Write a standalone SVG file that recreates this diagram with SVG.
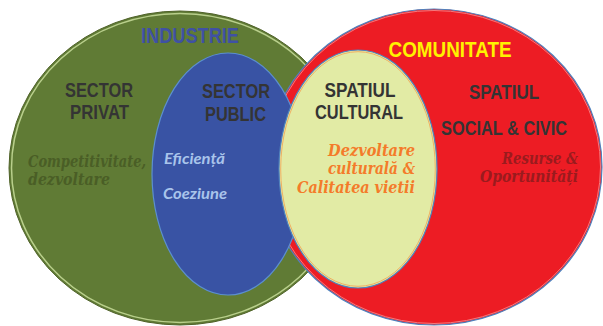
<svg xmlns="http://www.w3.org/2000/svg" width="603" height="326" viewBox="0 0 603 326">
  <style>
    .head { font-family: "Liberation Sans", Arial, sans-serif; font-weight: bold; font-size: 22px; }
    .lbl { font-family: "Liberation Sans", Arial, sans-serif; font-weight: bold; font-size: 20px; fill: #343434; text-anchor: middle; }
    .serif-it { font-family: "DejaVu Serif", "Liberation Serif", serif; font-weight: bold; font-style: italic; font-size: 16px; }
    .sans-it { font-family: Lato, "Liberation Sans", sans-serif; font-weight: bold; font-style: italic; font-size: 16px; fill: #A9C4EB; }
  </style>
  <rect width="603" height="326" fill="#FFFFFF"/>

  <!-- Industry sphere -->
  <g id="industrie">
    <ellipse cx="180" cy="168" rx="171" ry="157" fill="#607B35" stroke="#4F6228" stroke-width="1"/>
    <ellipse cx="180" cy="168" rx="168.5" ry="154.5" fill="none" stroke="#B9CF8C" stroke-width="1.5"/>
    <text class="head" x="190" y="43" text-anchor="middle" fill="#3F51A4" textLength="98" lengthAdjust="spacingAndGlyphs">INDUSTRIE</text>
    <text class="lbl" x="99" y="97" textLength="68" lengthAdjust="spacingAndGlyphs">SECTOR</text>
    <text class="lbl" x="99.5" y="119" textLength="59" lengthAdjust="spacingAndGlyphs">PRIVAT</text>
    <!-- horizontally condensed so the line stays clear of the blue ellipse -->
    <text class="serif-it" transform="translate(28 167) scale(0.72 1)" fill="#4A5E26" textLength="164" lengthAdjust="spacingAndGlyphs">Competitivitate,</text>
    <text class="serif-it" x="28" y="185" fill="#4A5E26" textLength="82" lengthAdjust="spacingAndGlyphs">dezvoltare</text>
  </g>

  <!-- Community sphere -->
  <g id="comunitate">
    <ellipse cx="434" cy="167" rx="168" ry="158" fill="#ED1C24" stroke="#4F81BD" stroke-width="1.2"/>
    <ellipse cx="434" cy="167" rx="166.5" ry="156.5" fill="none" stroke="#F47A7E" stroke-width="1"/>
    <text class="head" x="450" y="57" text-anchor="middle" fill="#FFF200" textLength="123" lengthAdjust="spacingAndGlyphs">COMUNITATE</text>
    <text class="lbl" x="504" y="99" textLength="70" lengthAdjust="spacingAndGlyphs">SPATIUL</text>
    <text class="lbl" x="504" y="135" textLength="126" lengthAdjust="spacingAndGlyphs">SOCIAL &amp; CIVIC</text>
    <text class="serif-it" x="578" y="164" text-anchor="end" fill="#9A1B1E" textLength="76" lengthAdjust="spacingAndGlyphs">Resurse &amp;</text>
    <text class="serif-it" x="578" y="182" text-anchor="end" fill="#9A1B1E" textLength="98" lengthAdjust="spacingAndGlyphs">Oportunități</text>
  </g>

  <!-- Public sector -->
  <g id="sector-public">
    <ellipse cx="228" cy="174" rx="76" ry="121" fill="#3953A4" stroke="#5B8FD0" stroke-width="1.2"/>
    <text class="lbl" x="236" y="98" textLength="68" lengthAdjust="spacingAndGlyphs">SECTOR</text>
    <text class="lbl" x="235.5" y="121" textLength="61" lengthAdjust="spacingAndGlyphs">PUBLIC</text>
    <text class="sans-it" x="164" y="164" textLength="61" lengthAdjust="spacingAndGlyphs">Eficiență</text>
    <text class="sans-it" x="163" y="199" textLength="64" lengthAdjust="spacingAndGlyphs">Coeziune</text>
  </g>

  <!-- Cultural space -->
  <g id="spatiul-cultural">
    <ellipse cx="358" cy="169" rx="79" ry="119" fill="#E2EBA5" stroke="#4F81BD" stroke-width="1.2"/>
    <ellipse cx="358" cy="169" rx="77.3" ry="117.3" fill="none" stroke="#F79646" stroke-width="1" stroke-opacity="0.7"/>
    <text class="lbl" x="360" y="97" textLength="71" lengthAdjust="spacingAndGlyphs">SPATIUL</text>
    <text class="lbl" x="359" y="119" textLength="88" lengthAdjust="spacingAndGlyphs">CULTURAL</text>
    <text class="serif-it" x="415" y="156" text-anchor="end" fill="#F47B2A" textLength="87" lengthAdjust="spacingAndGlyphs">Dezvoltare</text>
    <text class="serif-it" x="415" y="174" text-anchor="end" fill="#F47B2A" textLength="87" lengthAdjust="spacingAndGlyphs">culturală &amp;</text>
    <text class="serif-it" x="415" y="193" text-anchor="end" fill="#F47B2A" textLength="118" lengthAdjust="spacingAndGlyphs">Calitatea vietii</text>
  </g>

  <g id="connectors"/>
</svg>
